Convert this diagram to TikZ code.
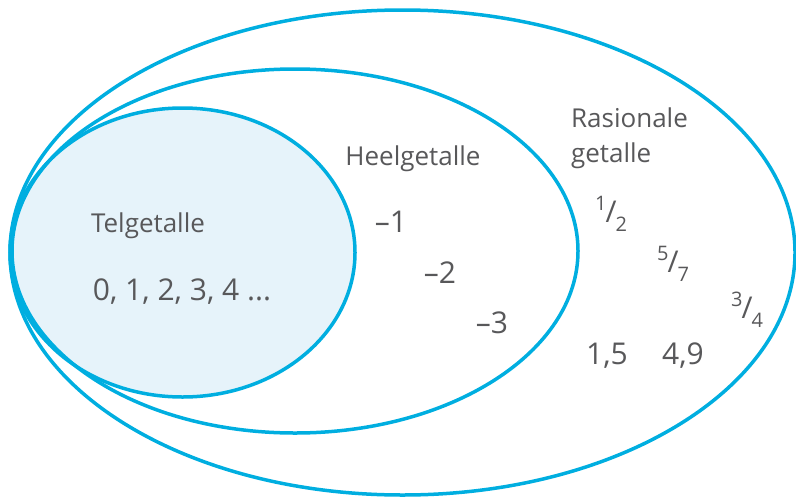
\documentclass[tikz,border=0pt]{standalone}
\usepackage{fontspec}
\setmainfont{Open Sans}
\usepackage{xcolor}
\definecolor{SetBlue}{RGB}{0,174,224}
\definecolor{SetFill}{RGB}{230,243,250}
\definecolor{TextGray}{RGB}{88,88,90}
\newcommand{\skewfrac}[2]{\raisebox{0.75ex}{\fontsize{10}{10}\selectfont #1}\kern-0.5pt/\kern-0.5pt\raisebox{-0.55ex}{\fontsize{10}{10}\selectfont #2}}

\begin{document}
\begin{tikzpicture}[x=0.5pt, y=-0.5pt, every node/.style={text=TextGray}]
  \tikzstyle{setline}=[draw=SetBlue, line width=1.75pt]
  \tikzstyle{setname}=[font=\fontsize{13}{17.5}\selectfont, align=left]
  \tikzstyle{number}=[font=\fontsize{15}{18}\selectfont]
  \useasboundingbox (0,0) rectangle (796,498);
  % sets
  \fill[SetFill] (182.5,252.5) ellipse [x radius=172.5, y radius=144.5];
  \draw[setline] (402.5,252.5) ellipse [x radius=392.5, y radius=242.5];
  \draw[setline] (295,251) ellipse [x radius=283, y radius=182];
  \draw[setline] (182.5,252.5) ellipse [x radius=172.5, y radius=144.5];
  % names
  \node[setname] (whole)    at (148,226) {Telgetalle};
  \node[setname] (integer)  at (413,159) {Heelgetalle};
  \node[setname, anchor=west] (rational) at (564,138) {Rasionale\\getalle};
  % members
  \node[number] (wholeset) at (182,292) {0, 1, 2, 3, 4 ...};
  \node[number] (neg1) at (391,222) {\textendash1};
  \node[number] (neg2) at (440,273) {\textendash2};
  \node[number] (neg3) at (492,323) {\textendash3};
  \node[number] (half)    at (611,214) {\skewfrac{1}{2}};
  \node[number] (fivesev) at (673,264) {\skewfrac{5}{7}};
  \node[number] (threeq)  at (747,310) {\skewfrac{3}{4}};
  \node[number] (onefive) at (607,356) {1,5};
  \node[number] (fournine) at (683,356) {4,9};
\end{tikzpicture}
\end{document}
